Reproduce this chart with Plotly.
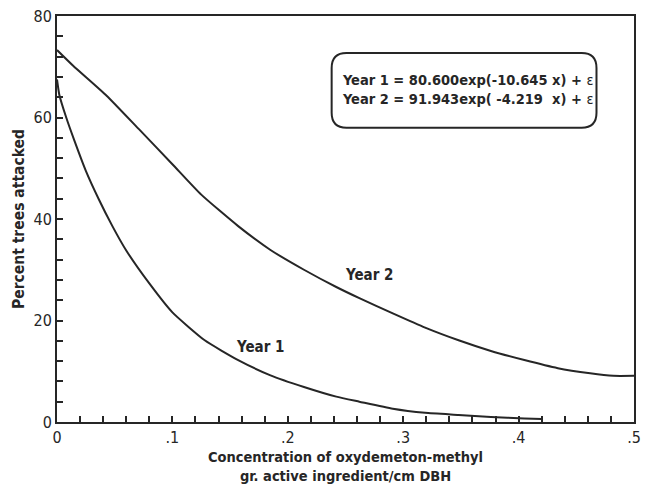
import plotly.graph_objects as go

# ---- data ----
year1_x = [0.000, 0.002, 0.008, 0.015, 0.025, 0.036, 0.048, 0.060, 0.080, 0.100,
           0.128, 0.157, 0.185, 0.214, 0.242, 0.262, 0.291, 0.319, 0.348, 0.376,
           0.405, 0.420]
year1_y = [67.5, 64.5, 60.0, 55.5, 49.5, 44.0, 38.6, 33.8, 27.3, 21.6,
           16.1, 12.2, 9.2, 6.9, 5.0, 4.0, 2.6, 1.8, 1.4, 1.0,
           0.7, 0.6]

year2_x = [0.000, 0.014, 0.043, 0.071, 0.100, 0.125, 0.157, 0.185, 0.214, 0.242,
           0.262, 0.291, 0.319, 0.348, 0.376, 0.405, 0.434, 0.462, 0.482, 0.500]
year2_y = [73.3, 70.2, 64.3, 57.7, 50.8, 44.8, 38.6, 33.9, 30.0, 26.6,
           24.4, 21.4, 18.6, 16.1, 14.0, 12.2, 10.6, 9.6, 9.1, 9.1]

series_names = ["Year 1", "Year 2"]
label_pos = {"Year 1": (0.176, 14.7), "Year 2": (0.270, 29.0)}

x_tickvals = [0, 0.1, 0.2, 0.3, 0.4, 0.5]
x_ticktext = ["0", ".1", ".2", ".3", ".4", ".5"]
y_tickvals = [0, 20, 40, 60, 80]
y_ticktext = ["0", "20", "40", "60", "80"]

equation_lines = ["Year 1 = 80.600exp(-10.645 x) + ",
                  "Year 2 = 91.943exp( -4.219  x) + "]

NARROW = "DejaVu Sans Condensed, Liberation Sans Narrow, Arial Narrow, sans-serif"
INK = "#262626"

fig = go.Figure()
for name, xs, ys in [("Year 1", year1_x, year1_y), ("Year 2", year2_x, year2_y)]:
    fig.add_trace(go.Scatter(x=xs, y=ys, mode="lines", name=name,
                             line=dict(color=INK, width=2, shape="spline", smoothing=0.5),
                             showlegend=False, hoverinfo="skip"))

for name in series_names:
    lx, ly = label_pos[name]
    fig.add_annotation(x=lx, y=ly, text="<b>%s</b>" % name, showarrow=False,
                       font=dict(family=NARROW, size=15, color=INK))

# rounded equation box (paper coords)
x0, x1, y0, y1 = 0.476, 0.935, 0.725, 0.909
rx, ry = 0.0257, 0.0369
path = (f"M {x0+rx},{y0} L {x1-rx},{y0} Q {x1},{y0} {x1},{y0+ry} "
        f"L {x1},{y1-ry} Q {x1},{y1} {x1-rx},{y1} L {x0+rx},{y1} "
        f"Q {x0},{y1} {x0},{y1-ry} L {x0},{y0+ry} Q {x0},{y0} {x0+rx},{y0} Z")
fig.add_shape(type="path", xref="paper", yref="paper", path=path,
              line=dict(color=INK, width=2), fillcolor="rgba(0,0,0,0)")

eq_text = "<br>".join("<b>%s</b>ε" % line.replace("  ", "&nbsp; ") for line in equation_lines)
fig.add_annotation(xref="paper", yref="paper", x=0.49, y=0.82, xanchor="left",
                   yanchor="middle", align="left", showarrow=False, text=eq_text,
                   font=dict(family=NARROW, size=14.5, color=INK))

fig.update_xaxes(range=[0, 0.5], tickvals=x_tickvals, ticktext=x_ticktext,
                 ticks="inside", ticklen=6, tickwidth=1.5, tickcolor=INK,
                 minor=dict(dtick=0.02, ticks="inside", ticklen=6, tickwidth=1.5, tickcolor=INK),
                 showline=True, linewidth=2, linecolor=INK, mirror=True,
                 showgrid=False, zeroline=False,
                 tickfont=dict(family=NARROW, size=16, color=INK),
                 title=dict(text="<b>Concentration of oxydemeton-methyl<br>gr. active ingredient/cm DBH</b>",
                            font=dict(family=NARROW, size=14.5, color=INK), standoff=6))
fig.update_yaxes(range=[0, 80], tickvals=y_tickvals, ticktext=y_ticktext,
                 ticks="inside", ticklen=6, tickwidth=1.5, tickcolor=INK,
                 minor=dict(dtick=4, ticks="inside", ticklen=6, tickwidth=1.5, tickcolor=INK),
                 showline=True, linewidth=2, linecolor=INK, mirror=True,
                 showgrid=False, zeroline=False,
                 tickfont=dict(family=NARROW, size=16, color=INK),
                 title=dict(text="<b>Percent trees attacked</b>",
                            font=dict(family=NARROW, size=15.5, color=INK), standoff=5))

fig.update_layout(width=648, height=492, margin=dict(l=57, r=7, t=15, b=70),
                  plot_bgcolor="white", paper_bgcolor="white")

fig.write_html("out.html")
